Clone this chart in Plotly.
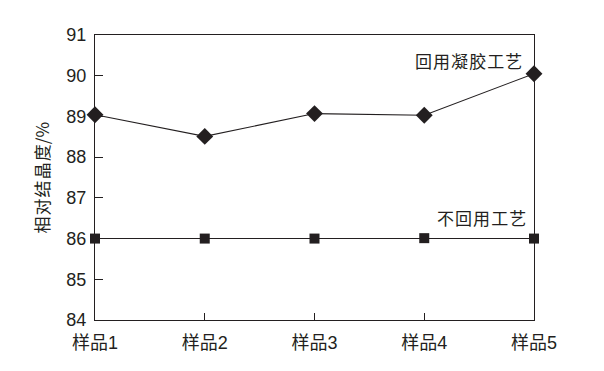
import plotly.graph_objects as go

categories = ["样品1", "样品2", "样品3", "样品4", "样品5"]
recycled = [89.04, 88.51, 89.07, 89.03, 90.05]
not_recycled = [86.0, 86.0, 86.0, 86.01, 86.0]
y_ticks = [84, 85, 86, 87, 88, 89, 90, 91]

ink = "#231f20"
font_fam = "Liberation Sans, Arial, Noto Sans CJK SC, sans-serif"
cjk = "Noto Sans CJK SC"

# page body adds an 8px offset; margins compensate so the plot box lands where the reference has it
L, R, T, B = 87, 78, 27, 59
plot_w = 604 - L - R

def spaced(s, sep="\u200a"):
    return sep.join(s)

fig = go.Figure()
fig.add_trace(go.Scatter(
    x=list(range(len(categories))), y=recycled, mode="lines+markers",
    line=dict(color=ink, width=1.1),
    marker=dict(symbol="diamond", size=13, color=ink),
    showlegend=False, cliponaxis=False))
fig.add_trace(go.Scatter(
    x=list(range(len(categories))), y=not_recycled, mode="lines+markers",
    line=dict(color=ink, width=1.1),
    marker=dict(symbol="square", size=10, color=ink),
    showlegend=False, cliponaxis=False))

fig.add_annotation(x=1, xref="paper", xanchor="right", xshift=-10,
                   y=90.37, yref="y", yanchor="middle",
                   text=spaced("回用凝胶工艺"), showarrow=False,
                   font=dict(size=17, color=ink, family=cjk))
fig.add_annotation(x=1, xref="paper", xanchor="right", xshift=-6,
                   y=86.52, yref="y", yanchor="middle",
                   text=spaced("不回用工艺"), showarrow=False,
                   font=dict(size=17, color=ink, family=cjk))
fig.add_annotation(x=(33 - L) / plot_w, xref="paper", y=0.5, yref="paper",
                   xanchor="center", yanchor="middle", textangle=-90,
                   text=spaced("相对结晶度") + "/%", showarrow=False,
                   font=dict(size=17, color=ink, family=cjk))

fig.update_layout(
    width=604, height=371,
    margin=dict(l=L, r=R, t=T, b=B, autoexpand=False),
    paper_bgcolor="white", plot_bgcolor="white",
    font=dict(family=font_fam, color=ink, size=17),
    xaxis=dict(range=[0, len(categories) - 1], tickvals=list(range(len(categories))),
               ticktext=categories, ticks="inside", ticklen=7, tickcolor=ink,
               showline=True, linecolor=ink, linewidth=1.3, mirror=True,
               showgrid=False, zeroline=False, automargin=False,
               ticklabelstandoff=6,
               tickfont=dict(size=18, family=font_fam)),
    yaxis=dict(range=[84, 91], tickvals=y_ticks, ticks="inside", ticklen=8,
               tickcolor=ink, showline=True, linecolor=ink, linewidth=1.3,
               mirror=True, showgrid=False, zeroline=False, automargin=False,
               ticklabelstandoff=4,
               tickfont=dict(size=18, family=font_fam)),
)

fig.write_html("out.html")
